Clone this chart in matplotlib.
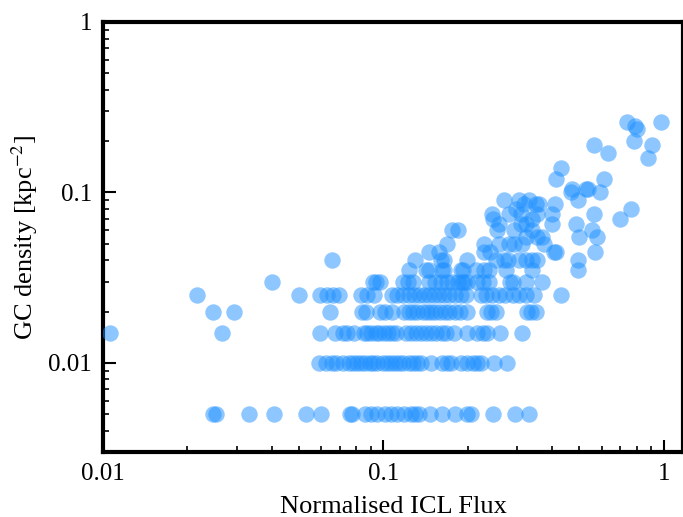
import matplotlib
matplotlib.use("Agg")
import matplotlib.pyplot as plt
from matplotlib.ticker import FixedLocator, FixedFormatter, LogLocator, NullFormatter
import numpy as np

plt.rcParams['font.family'] = ['Liberation Serif', 'DejaVu Serif']
plt.rcParams['mathtext.fontset'] = 'stix'

# GC density levels (kpc^-2) and the normalised ICL flux of the points at each level
flux_0005 = [0.0247, 0.0253, 0.0331, 0.0408, 0.0529, 0.0597, 0.0757, 0.0775, 0.0863,
             0.0906, 0.0952, 0.1017, 0.1068, 0.1122, 0.1188, 0.1258, 0.130, 0.1344,
             0.147, 0.162, 0.1806, 0.199, 0.206, 0.2467, 0.2957, 0.331]
flux_0010 = [0.0591, 0.0626, 0.0653, 0.068, 0.072, 0.0756, 0.0782, 0.0808, 0.0835,
             0.0863, 0.0892, 0.0921, 0.0952, 0.100, 0.1033, 0.1068, 0.1104, 0.114,
             0.1178, 0.1238, 0.1279, 0.1322, 0.1366, 0.1483, 0.1623, 0.169, 0.1747,
             0.1897, 0.1993, 0.2094, 0.2163, 0.2236, 0.2487, 0.2767]
flux_0015 = [0.0106, 0.0266, 0.0596, 0.0674, 0.072, 0.0744, 0.0788, 0.0849, 0.0877,
             0.0906, 0.0937, 0.0968, 0.1008, 0.1042, 0.1077, 0.1113, 0.1208, 0.1259,
             0.1311, 0.1366, 0.1423, 0.1483, 0.1545, 0.1623, 0.1677, 0.1791, 0.1993,
             0.2163, 0.2273, 0.2348, 0.2613, 0.3131]
flux_0020 = [0.0247, 0.0294, 0.0647, 0.0842, 0.087, 0.0976, 0.1017, 0.1077, 0.1188,
             0.1238, 0.1279, 0.1322, 0.1389, 0.1435, 0.1483, 0.1532, 0.1596, 0.1663,
             0.1719, 0.1806, 0.1882, 0.1993, 0.2348, 0.2427, 0.2529, 0.3262, 0.3371,
             0.3512]
flux_0025 = [0.0217, 0.0498, 0.0596, 0.0631, 0.0663, 0.0697, 0.0835, 0.0877, 0.0929,
             0.1077, 0.1122, 0.1178, 0.1238, 0.129, 0.1344, 0.140, 0.1459, 0.152,
             0.1584, 0.165, 0.1719, 0.1806, 0.1897, 0.1976, 0.2236, 0.2329, 0.2447,
             0.2591, 0.2722, 0.2907, 0.3054, 0.3235, 0.3454, 0.4311]
flux_0030 = [0.040, 0.092, 0.0944, 0.0976, 0.1178, 0.1228, 0.1279, 0.1459, 0.1532,
             0.1609, 0.169, 0.1762, 0.1851, 0.1912, 0.1935, 0.1993, 0.2163, 0.2273,
             0.2387, 0.2836, 0.2907, 0.3235, 0.3688]
flux_0035 = [0.1238, 0.1420, 0.1450, 0.1623, 0.165, 0.1895, 0.1925, 0.2146, 0.2292,
             0.2387, 0.2744, 0.3398, 0.4957]
flux_0040 = [0.0653, 0.130, 0.161, 0.165, 0.198, 0.253, 0.27, 0.277, 0.305, 0.323,
             0.34, 0.354, 0.496]
flux_0045 = [0.1459, 0.158, 0.229, 0.239, 0.407, 0.414, 0.57]
flux_0050 = [0.168, 0.229, 0.259, 0.281, 0.293, 0.313, 0.375]
flux_0055 = [0.323, 0.354, 0.369, 0.50, 0.579]
flux_0060 = [0.175, 0.184, 0.255, 0.293, 0.34, 0.556]
flux_0065 = [0.259, 0.31, 0.323, 0.40, 0.488]
flux_0070 = [0.245, 0.34, 0.70]
flux_0075 = [0.243, 0.281, 0.31, 0.354, 0.40, 0.565]
flux_0080 = [0.298, 0.766]
flux_0085 = [0.318, 0.351, 0.36, 0.41]
flux_0090 = [0.27, 0.305, 0.331, 0.496]

levels = [0.005, 0.010, 0.015, 0.020, 0.025, 0.030, 0.035, 0.040, 0.045,
          0.050, 0.055, 0.060, 0.065, 0.070, 0.075, 0.080, 0.085, 0.090]
flux_rows = [flux_0005, flux_0010, flux_0015, flux_0020, flux_0025, flux_0030,
             flux_0035, flux_0040, flux_0045, flux_0050, flux_0055, flux_0060,
             flux_0065, flux_0070, flux_0075, flux_0080, flux_0085, flux_0090]

# Brightest systems (individual points)
flux_high = [0.468, 0.594, 0.472, 0.529, 0.538, 0.414, 0.614, 0.431, 0.88, 0.634,
             0.565, 0.91, 0.785, 0.805, 0.79, 0.741, 0.98]
dens_high = [0.100, 0.100, 0.105, 0.105, 0.105, 0.120, 0.120, 0.140, 0.160, 0.170,
             0.190, 0.190, 0.200, 0.235, 0.245, 0.260, 0.260]

x = []
y = []
for lev, row in zip(levels, flux_rows):
    x.extend(row)
    y.extend([lev] * len(row))
x.extend(flux_high)
y.extend(dens_high)

fig = plt.figure(figsize=(6.83, 5.17), dpi=100)
ax = fig.add_axes([103 / 683, 65 / 517, 580 / 683, 430 / 517])

ax.scatter(x, y, s=140, color='#1E90FF', alpha=0.5, linewidths=0, zorder=3)

ax.set_xscale('log')
ax.set_yscale('log')
ax.set_xlim(0.01, 1.17)
ax.set_ylim(0.003, 1.0)

ax.xaxis.set_major_locator(FixedLocator([0.01, 0.1, 1]))
ax.xaxis.set_major_formatter(FixedFormatter(['0.01', '0.1', '1']))
ax.yaxis.set_major_locator(FixedLocator([0.01, 0.1, 1]))
ax.yaxis.set_major_formatter(FixedFormatter(['0.01', '0.1', '1']))
ax.xaxis.set_minor_locator(LogLocator(base=10, subs=np.arange(2, 10)))
ax.yaxis.set_minor_locator(LogLocator(base=10, subs=np.arange(2, 10)))
ax.xaxis.set_minor_formatter(NullFormatter())
ax.yaxis.set_minor_formatter(NullFormatter())

ax.tick_params(which='both', direction='in', labelsize=18, pad=8)
ax.tick_params(which='major', length=9, width=1.5)
ax.tick_params(which='minor', length=4.5, width=1.2)

for side in ['left', 'bottom', 'top', 'right']:
    ax.spines[side].set_linewidth(3)

ax.set_xlabel('Normalised ICL Flux', fontsize=19, labelpad=8)
ax.set_ylabel('GC density [kpc$^{-2}$]', fontsize=19, labelpad=6)

fig.savefig('out.png', dpi=100)
